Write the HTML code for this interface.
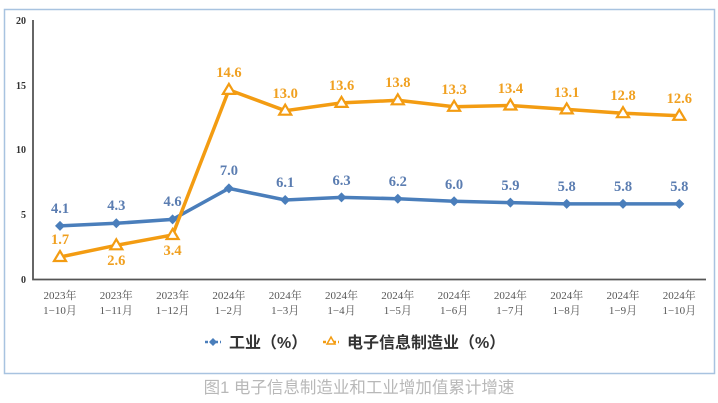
<!DOCTYPE html>
<html><head><meta charset="utf-8"><style>
body{margin:0;background:#fff;width:718px;height:403px;overflow:hidden}
svg{display:block}
</style></head><body>
<svg width="718" height="403" xmlns="http://www.w3.org/2000/svg">
<rect x="4.5" y="9.5" width="710" height="364" fill="#fff" stroke="#a8c3e0" stroke-width="1.5"/>
<g font-family="Liberation Serif, serif" font-size="10" font-weight="bold" fill="#333" text-anchor="end">
<text x="26" y="24">20</text><text x="26" y="89">15</text><text x="26" y="153">10</text><text x="26" y="218">5</text><text x="26" y="283">0</text>
</g>
<path d="M33 20 V279.5 H706" fill="none" stroke="#555" stroke-width="1.8"/>
<g font-family="Liberation Serif, 'Noto Serif CJK SC', serif" font-size="11" fill="#555" text-anchor="middle">
<text x="60" y="299">2023年</text><text x="60" y="314">1−10月</text>
<text x="116.3" y="299">2023年</text><text x="116.3" y="314">1−11月</text>
<text x="172.6" y="299">2023年</text><text x="172.6" y="314">1−12月</text>
<text x="228.9" y="299">2024年</text><text x="228.9" y="314">1−2月</text>
<text x="285.2" y="299">2024年</text><text x="285.2" y="314">1−3月</text>
<text x="341.5" y="299">2024年</text><text x="341.5" y="314">1−4月</text>
<text x="397.8" y="299">2024年</text><text x="397.8" y="314">1−5月</text>
<text x="454.1" y="299">2024年</text><text x="454.1" y="314">1−6月</text>
<text x="510.4" y="299">2024年</text><text x="510.4" y="314">1−7月</text>
<text x="566.7" y="299">2024年</text><text x="566.7" y="314">1−8月</text>
<text x="623" y="299">2024年</text><text x="623" y="314">1−9月</text>
<text x="679.3" y="299">2024年</text><text x="679.3" y="314">1−10月</text>
</g>
<polyline fill="none" stroke="#4a7ebb" stroke-width="3.5" points="60,225.9 116.3,223.3 172.6,219.4 228.9,188.4 285.2,200 341.5,197.4 397.8,198.7 454.1,201.3 510.4,202.6 566.7,203.9 623,203.9 679.3,203.9"/>
<g fill="#4a7ebb">
<path d="M60 220.9l5 5-5 5-5-5z"/><path d="M116.3 218.3l5 5-5 5-5-5z"/><path d="M172.6 214.4l5 5-5 5-5-5z"/><path d="M228.9 183.4l5 5-5 5-5-5z"/><path d="M285.2 195l5 5-5 5-5-5z"/><path d="M341.5 192.4l5 5-5 5-5-5z"/><path d="M397.8 193.7l5 5-5 5-5-5z"/><path d="M454.1 196.3l5 5-5 5-5-5z"/><path d="M510.4 197.6l5 5-5 5-5-5z"/><path d="M566.7 198.9l5 5-5 5-5-5z"/><path d="M623 198.9l5 5-5 5-5-5z"/><path d="M679.3 198.9l5 5-5 5-5-5z"/>
</g>
<polyline fill="none" stroke="#f39c12" stroke-width="3.5" points="60,257 116.3,245.3 172.6,235 228.9,89.9 285.2,110.7 341.5,102.9 397.8,100.3 454.1,106.8 510.4,105.5 566.7,109.4 623,113.2 679.3,115.8"/>
<g fill="#fff" stroke="#f39c12" stroke-width="2.2">
<path d="M60 251l6 10h-12z"/><path d="M116.3 239.3l6 10h-12z"/><path d="M172.6 229l6 10h-12z"/><path d="M228.9 83.9l6 10h-12z"/><path d="M285.2 104.7l6 10h-12z"/><path d="M341.5 96.9l6 10h-12z"/><path d="M397.8 94.3l6 10h-12z"/><path d="M454.1 100.8l6 10h-12z"/><path d="M510.4 99.5l6 10h-12z"/><path d="M566.7 103.4l6 10h-12z"/><path d="M623 107.2l6 10h-12z"/><path d="M679.3 109.8l6 10h-12z"/>
</g>
<g font-family="Liberation Serif, serif" font-size="14.5" font-weight="bold" text-anchor="middle">
<g fill="#5b7db1">
<text x="60" y="213">4.1</text><text x="116.3" y="210">4.3</text><text x="172.6" y="206">4.6</text><text x="228.9" y="175">7.0</text><text x="285.2" y="187">6.1</text><text x="341.5" y="185">6.3</text><text x="397.8" y="186">6.2</text><text x="454.1" y="189">6.0</text><text x="510.4" y="190">5.9</text><text x="566.7" y="191">5.8</text><text x="623" y="191">5.8</text><text x="679.3" y="191">5.8</text>
</g>
<g fill="#f0a020">
<text x="60" y="244">1.7</text><text x="116.3" y="265">2.6</text><text x="172.6" y="255">3.4</text><text x="228.9" y="77">14.6</text><text x="285.2" y="98">13.0</text><text x="341.5" y="90">13.6</text><text x="397.8" y="87">13.8</text><text x="454.1" y="94">13.3</text><text x="510.4" y="93">13.4</text><text x="566.7" y="97">13.1</text><text x="623" y="100">12.8</text><text x="679.3" y="103">12.6</text>
</g>
</g>
<line x1="205" y1="342" x2="221" y2="342" stroke="#4a7ebb" stroke-width="2.5" stroke-dasharray="3,2"/>
<path d="M213 338l4 4-4 4-4-4z" fill="#4a7ebb"/>
<line x1="323" y1="342" x2="339" y2="342" stroke="#f39c12" stroke-width="2.5" stroke-dasharray="3,2"/>
<path d="M331 337l4 7h-8z" fill="#fff" stroke="#f39c12" stroke-width="1.5"/>
<g font-family="Liberation Sans, 'Noto Sans CJK SC', sans-serif" font-size="16" font-weight="bold" fill="#333">
<text x="229" y="348">工业（%）</text>
<text x="347" y="348">电子信息制造业（%）</text>
</g>
<text x="359" y="393" text-anchor="middle" font-family="Liberation Sans, 'Noto Sans CJK SC', sans-serif" font-size="16.5" fill="#b8b8b8">图1 电子信息制造业和工业增加值累计增速</text>
</svg>
</body></html>
